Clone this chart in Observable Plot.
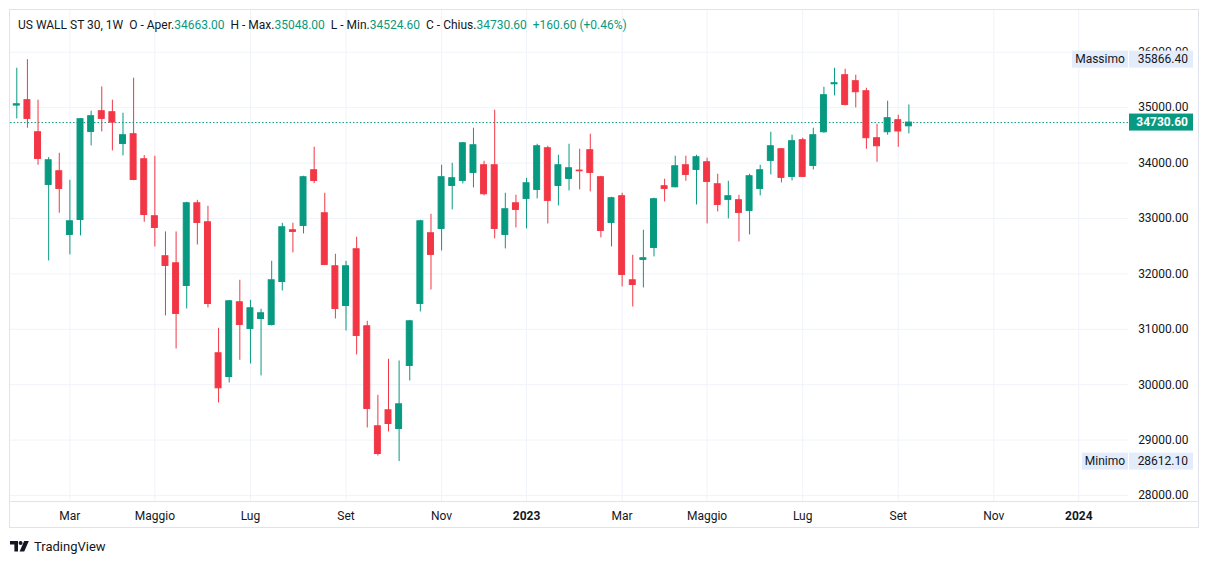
<!DOCTYPE html>
<html>
<head>
<meta charset="utf-8">
<script src="https://cdn.jsdelivr.net/npm/d3@7"></script>
<script src="https://cdn.jsdelivr.net/npm/@observablehq/plot@0.6"></script>
<style>
  html, body { margin: 0; padding: 0; background: #ffffff; }
  body { width: 1209px; height: 564px; position: relative; overflow: hidden; font-family: Roboto, "Noto Sans", sans-serif; }
  #chart { position: absolute; left: 0; top: 0; }
  #frame { position: absolute; left: 9px; top: 9px; width: 1188px; height: 517px; border: 1px solid #e0e3eb; pointer-events: none; }
  #paneline { position: absolute; left: 10px; top: 501px; width: 1188px; height: 1px; background: #e0e3eb; }
  #header { position: absolute; left: 18px; top: 18px; font-size: 12px; color: #131722; white-space: pre; line-height: 15px; }
  #header .v { color: #089981; }
  #logo { position: absolute; left: 10px; top: 539px; display: flex; align-items: center; font-size: 13px; color: #131722; }
  #logo svg { margin-right: 5px; }
</style>
</head>
<body>
<div id="chart"></div>
<div id="header"></div>
<div id="frame"></div>
<div id="paneline"></div>
<div id="logo"><svg width="19" height="11" viewBox="0 0 19 11"><path d="M0 0h8v10.5h-3.6v-7h-4.4z" fill="#131722"/><circle cx="10.6" cy="2" r="2" fill="#131722"/><path d="M14.2 0h4.6l-4.6 10.5h-4.6z" fill="#131722"/></svg><span>TradingView</span></div>
<script>
// ---- Data (weekly candles, US WALL ST 30) ----
const weekStart = "2022-01-31"; // Monday of first visible weekly bar
const opens  = [35037,35134,34556,33605,33852,32703,32973,34562,34935,34917,34345,34520,34068,33040,32318,32191,31782,33274,32931,30567,30139,31487,31006,31186,31078,31854,32787,32865,33870,33094,32137,31421,32444,31054,29249,29538,29201,30338,31457,32733,32811,33587,33677,33822,33960,33960,32703,33274,33353,33515,34267,33587,33714,33864,34231,33744,32919,33401,31884,32252,32468,33581,33563,33960,33876,34014,33617,33335,33329,33136,33533,34039,34249,33750,34412,33948,34556,35422,35585,35477,35296,34448,34556,34773,34663];
const highs  = [35711,35866.4,35134,34098,34177,33689,34800,34935,35374,35134,34899,35531,34135,34123,32757,32757,33292,33328,33220,31018,31520,31884,31523,31361,32227,32913,32913,33762,34285,33455,32354,32227,32661,31144,29808,30458,30428,31162,32967,33076,33960,33996,34370,34628,34032,34953,33455,33419,33726,34339,34303,34141,34339,34249,34520,33760,33383,33455,32336,32787,33365,33708,34123,34123,34141,34087,33798,33671,33419,33798,33960,34556,34260,34502,34448,34628,35368,35711,35693,35585,35350,34700,35116,34863,35048];
const lows   = [34797,34628,33960,32233,33094,32342,32685,34309,34562,34219,34129,33680,32931,32486,31241,30645,31367,32522,31385,29670,30031,30440,30374,30158,31060,31692,32378,32721,33629,32150,31186,30970,30537,29219,28713,29147,28612.1,30067,31313,31710,32414,33154,33623,33551,33407,32631,32450,32829,32811,33353,32901,33226,33497,33515,33479,32649,32486,31764,31403,31746,32306,33298,33551,33671,33244,32901,33118,32992,32576,32703,33407,33786,33641,33677,33740,33876,34538,35212,35031,34995,34249,34014,34502,34285,34524.6];
const closes = [35061,34797,34074,34050,33533,32949,34791,34845,34797,34730,34502,33695,33063,32829,32143,31277,33274,32919,31457,29935,31505,31078,31379,31289,31884,32841,32757,33744,33677,32161,31367,32137,30880,29562,28749,29291,29646,31144,32949,32342,33744,33726,34357,34321,33437,32811,33166,33154,33635,34303,33317,33960,33906,33852,33822,32775,33365,31981,31800,32282,33347,33533,33942,33786,34105,33659,33244,33401,33100,33762,33870,34303,33732,34394,33750,34502,35224,35440,35049,35278,34448,34303,34809,34570,34730.6];

const tickDates  = ["2022-03-07","2022-05-02","2022-07-04","2022-09-05","2022-11-07","2023-01-02","2023-03-06","2023-05-01","2023-07-03","2023-09-04","2023-11-06","2024-01-01"];
const tickLabels = ["Mar","Maggio","Lug","Set","Nov","2023","Mar","Maggio","Lug","Set","Nov","2024"];
const yTicks = [28000,29000,30000,31000,32000,33000,34000,35000,36000];

const symbol = "US WALL ST 30, 1W";
const change = 160.60, changePct = 0.46;

// ---- Build ----
const GREEN = "#089981", RED = "#F23645", GRID = "#f0f3fa", TEXT = "#131722";
const WEEK = 7 * 864e5;
const t0 = new Date(weekStart + "T00:00:00Z").getTime();
const rows = opens.map((o, i) => ({
  date: new Date(t0 + i * WEEK),
  open: o, high: highs[i], low: lows[i], close: closes[i],
  color: closes[i] >= o ? GREEN : RED
}));
const last = rows[rows.length - 1];
const hw = 0.28 * WEEK;

const ticks = tickDates.map(s => new Date(s + "T00:00:00Z"));
const labelOf = new Map(ticks.map((d, i) => [d.getTime(), tickLabels[i]]));
const isYear = s => /^\d{4}$/.test(s);
const monthTicks = ticks.filter(d => !isYear(labelOf.get(d.getTime())));
const yearTicks = ticks.filter(d => isYear(labelOf.get(d.getTime())));

const fmt = d3.format(".2f");

const chart = Plot.plot({
  width: 1209,
  height: 530,
  marginLeft: 10,
  marginRight: 81,
  marginTop: 10,
  marginBottom: 29,
  style: { fontFamily: "Roboto, 'Noto Sans', sans-serif", fontSize: "12px", color: TEXT, background: "transparent" },
  x: { type: "utc", domain: [new Date(t0 - 0.593 * WEEK), new Date(t0 + 104.68 * WEEK)], axis: null },
  y: { domain: [27892, 36753], axis: null },
  marks: [
    Plot.ruleX(ticks, { stroke: GRID, strokeWidth: 1 }),
    Plot.ruleY(yTicks, { stroke: GRID, strokeWidth: 1 }),
    Plot.ruleY([last.close], { stroke: GREEN, strokeWidth: 1, strokeDasharray: "1.5,2" }),
    Plot.ruleX(rows, { x: "date", y1: "low", y2: "high", stroke: "color", strokeWidth: 1 }),
    Plot.rect(rows, {
      x1: d => new Date(d.date.getTime() - hw),
      x2: d => new Date(d.date.getTime() + hw),
      y1: "open", y2: "close",
      fill: "color", stroke: "color", strokeWidth: 1
    }),
    Plot.axisX(monthTicks, { ticks: monthTicks, tickFormat: d => labelOf.get(d.getTime()), tickSize: 0, tickPadding: 10, fontSize: 12, fill: TEXT }),
    Plot.axisX(yearTicks, { ticks: yearTicks, tickFormat: d => labelOf.get(d.getTime()), tickSize: 0, tickPadding: 10, fontSize: 12, fontWeight: 700, fill: TEXT }),
    Plot.text(yTicks, { y: d => d, text: d => fmt(d), frameAnchor: "right", textAnchor: "end", dx: 60, fontSize: 12, fill: TEXT })
  ]
});
document.getElementById("chart").append(chart);

// ---- price tags on the price scale (positioned with Plot's y scale) ----
const y = chart.scale("y");
const svg = d3.select(chart);
function tag(v, valueFill, valueColor, bold, label, labelWidth) {
  const cy = y.apply(v);
  const g = svg.append("g").attr("font-family", "Roboto, 'Noto Sans', sans-serif").attr("font-size", 12);
  if (label) {
    g.append("rect").attr("x", 1128 - labelWidth).attr("y", cy - 8.5).attr("width", labelWidth).attr("height", 17).attr("fill", "#e3ecfa");
    g.append("text").attr("x", 1128 - labelWidth / 2).attr("y", cy).attr("dy", "0.35em").attr("text-anchor", "middle").attr("fill", TEXT).text(label);
  }
  g.append("rect").attr("x", 1129).attr("y", cy - 8.5).attr("width", 64).attr("height", 17).attr("fill", valueFill);
  g.append("text").attr("x", 1188).attr("y", cy).attr("dy", "0.35em").attr("text-anchor", "end")
    .attr("fill", valueColor).attr("font-weight", bold ? 700 : 400).text(fmt(v));
}
tag(d3.max(highs), "#e3ecfa", TEXT, false, "Massimo", 56);
tag(d3.min(lows), "#e3ecfa", TEXT, false, "Minimo", 46);
tag(last.close, GREEN, "#ffffff", true, null, 0);

// ---- header ----
const h = document.getElementById("header");
const sp = (t, cls) => `<span${cls ? ` class="${cls}"` : ""}>${t}</span>`;
h.innerHTML =
  sp(symbol) + "  " +
  sp("O - Aper.") + sp(fmt(last.open), "v") + "  " +
  sp("H - Max.") + sp(fmt(last.high), "v") + "  " +
  sp("L - Min.") + sp(fmt(last.low), "v") + "  " +
  sp("C - Chius.") + sp(fmt(last.close), "v") + "  " +
  sp(`+${fmt(change)} (+${fmt(changePct)}%)`, "v");
</script>
</body>
</html>
